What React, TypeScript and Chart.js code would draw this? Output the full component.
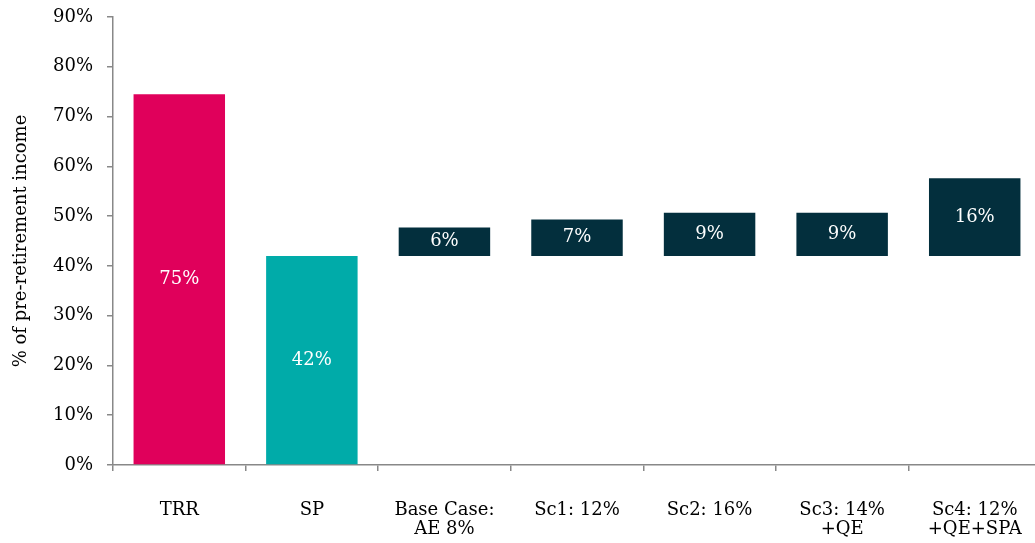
import React, { useEffect, useRef } from "react";
import { Chart, registerables } from "chart.js";

Chart.register(...registerables);

const categories: (string | string[])[] = [
  "TRR",
  "SP",
  ["Base Case:", "AE 8%"],
  "Sc1: 12%",
  "Sc2: 16%",
  ["Sc3: 14%", "+QE"],
  ["Sc4: 12%", "+QE+SPA"],
];
const barBases: number[] = [0, 0, 42, 42, 42, 42, 42];
const barHeights: number[] = [74.5, 42, 5.7, 7.3, 8.7, 8.7, 15.6];
const barColors: string[] = [
  "#E0005B",
  "#00ABA9",
  "#032F3D",
  "#032F3D",
  "#032F3D",
  "#032F3D",
  "#032F3D",
];
const yTicks: number[] = [0, 10, 20, 30, 40, 50, 60, 70, 80, 90];

const FONT = "'DejaVu Serif', Georgia, serif";

const labelPlugin = {
  id: "barValueLabels",
  afterDatasetsDraw(chart: any) {
    const ctx = chart.ctx;
    const meta = chart.getDatasetMeta(0);
    ctx.save();
    ctx.font = `18px ${FONT}`;
    ctx.fillStyle = "#FFFFFF";
    ctx.textAlign = "center";
    ctx.textBaseline = "middle";
    meta.data.forEach((el: any, i: number) => {
      const props = el.getProps(["x", "y", "base"], true);
      const cy = (props.y + props.base) / 2;
      ctx.fillText(Math.round(barHeights[i]) + "%", props.x, cy);
    });
    ctx.restore();
  },
};

export default function App() {
  const canvasRef = useRef<HTMLCanvasElement | null>(null);

  useEffect(() => {
    if (!canvasRef.current) return;
    const data = barBases.map((b, i) => [b, b + barHeights[i]]);
    const chart = new Chart(canvasRef.current, {
      type: "bar",
      data: {
        labels: categories as any,
        datasets: [
          {
            data: data as any,
            backgroundColor: barColors,
            borderWidth: 0,
            barPercentage: 0.69,
            categoryPercentage: 1,
          },
        ],
      },
      plugins: [labelPlugin],
      options: {
        responsive: false,
        animation: false,
        maintainAspectRatio: false,
        layout: { padding: { top: 17, right: 4, left: 0, bottom: 0 } },
        plugins: {
          legend: { display: false },
          tooltip: { enabled: false },
        },
        scales: {
          x: {
            grid: {
              offset: true,
              drawOnChartArea: false,
              drawTicks: true,
              tickLength: 6,
              color: "#888888",
              lineWidth: 1.5,
            },
            border: { color: "#888888", width: 1.5 },
            ticks: {
              color: "#000000",
              font: { family: FONT, size: 18, lineHeight: 1.1 },
              padding: 29,
              maxRotation: 0,
              autoSkip: false,
            },
            afterFit: (scale: any) => {
              scale.height = 78;
              scale.paddingLeft = 0;
              scale.paddingRight = 0;
            },
          },
          y: {
            min: 0,
            max: 90,
            afterBuildTicks: (scale: any) => {
              scale.ticks = yTicks.map((v) => ({ value: v }));
            },
            grid: {
              drawOnChartArea: false,
              drawTicks: true,
              tickLength: 6,
              color: "#888888",
              lineWidth: 1.5,
            },
            border: { color: "#888888", width: 1.5 },
            ticks: {
              color: "#000000",
              font: { family: FONT, size: 18 },
              padding: 14,
              callback: (v: any) => v + "%",
            },
            title: {
              display: true,
              text: "% of pre-retirement income",
              color: "#000000",
              font: { family: FONT, size: 18 },
              padding: { top: 11, bottom: 0 },
            },
            afterFit: (scale: any) => {
              scale.width = 113;
              scale.paddingTop = 0;
              scale.paddingBottom = 0;
            },
          },
        },
      },
    });
    return () => chart.destroy();
  }, []);

  return (
    <div
      style={{
        position: "fixed",
        left: 0,
        top: 0,
        width: 1035,
        height: 543,
        overflow: "hidden",
        background: "#FFFFFF",
      }}
    >
      <canvas ref={canvasRef} width={1045} height={543} style={{ display: "block" }} />
    </div>
  );
}
